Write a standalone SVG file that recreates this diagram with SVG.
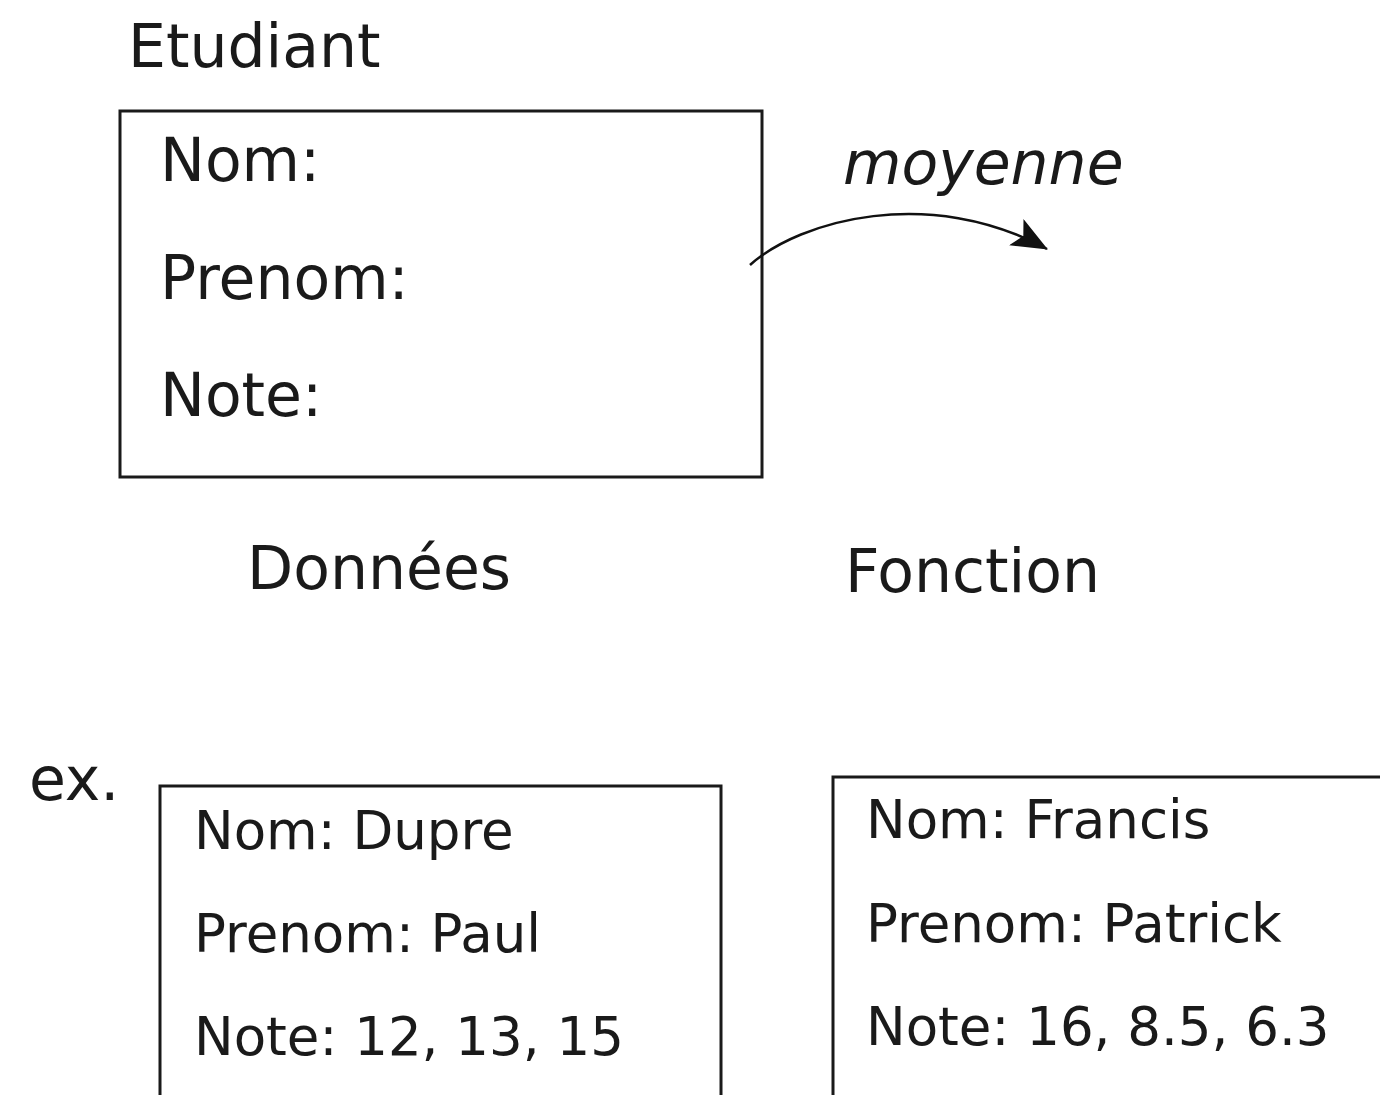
<svg xmlns="http://www.w3.org/2000/svg" width="1380" height="1095" viewBox="0 0 1380 1095">
<style>
text{font-family:"DejaVu Sans","Liberation Sans",sans-serif;fill:#1a1a1a}
.big{font-size:60px}
.mid{font-size:53px}
.it{font-style:italic}
.box{fill:#fff;stroke:#1a1a1a;stroke-width:3}
.conn{fill:none;stroke:#111;stroke-width:2.5}
</style>
<defs>
<marker id="ah" viewBox="0 0 36 30" refX="35" refY="15" markerWidth="36" markerHeight="30" markerUnits="userSpaceOnUse" orient="auto">
<path d="M0,0 L36,15 L0,30 L8,15 Z" fill="#111"/>
</marker>
</defs>
<rect width="1380" height="1095" fill="#fff"/>
<g id="etudiant">
<text class="big" x="128" y="67">Etudiant</text>
<rect class="box" x="120" y="111" width="642" height="366"/>
<text class="big" x="160" y="181">Nom:</text>
<text class="big" x="160" y="299">Prenom:</text>
<text class="big" x="160" y="416">Note:</text>
</g>
<g id="donnees"><text class="big" x="247" y="589">Données</text></g>
<g id="fonction"><text class="big" x="845" y="592">Fonction</text></g>
<g id="moyenne"><text class="big it" x="843" y="184">moyenne</text></g>
<g id="connectors">
<path class="conn" d="M750,265 C800,220 930,185 1047,249" marker-end="url(#ah)"/>
</g>
<g id="ex"><text class="big" x="29" y="800">ex.</text></g>
<g id="exemple1">
<rect class="box" x="160" y="786" width="561" height="330"/>
<text class="mid" x="194" y="849">Nom: Dupre</text>
<text class="mid" x="194" y="952">Prenom: Paul</text>
<text class="mid" x="194" y="1055">Note: 12, 13, 15</text>
</g>
<g id="exemple2">
<rect class="box" x="833" y="777" width="600" height="330"/>
<text class="mid" x="866" y="838">Nom: Francis</text>
<text class="mid" x="866" y="942">Prenom: Patrick</text>
<text class="mid" x="866" y="1045">Note: 16, 8.5, 6.3</text>
</g>
</svg>
